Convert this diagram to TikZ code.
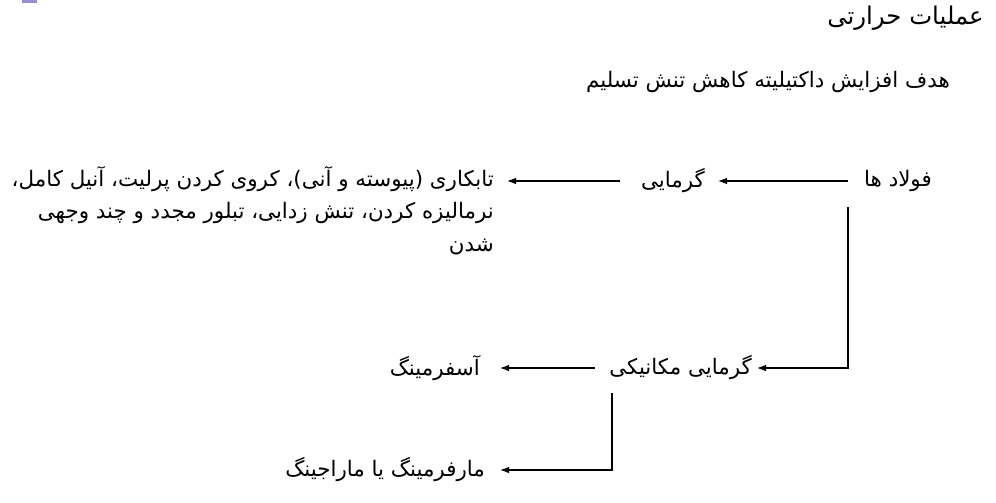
\documentclass[tikz,border=0pt]{standalone}
\usepackage{fontspec}
\newfontfamily\farsi[Script=Arabic]{DejaVu Sans}
\TeXXeTstate=1
\usetikzlibrary{arrows.meta,positioning}

\definecolor{slidemark}{RGB}{150,140,210}

\begin{document}
\begin{tikzpicture}[x=1pt,y=-1pt]
    \tikzset{
      titlenode/.style={inner sep=0pt,font=\farsi\fontsize{24.4}{30}\selectfont},
      textnode/.style={inner sep=0pt,font=\farsi\fontsize{21.4}{32.5}\selectfont},
      arrow/.style={-{Latex[length=9pt,width=6.5pt]},line width=1.1pt}
    }
    \useasboundingbox (0,0) rectangle (996,503);
    \fill[slidemark] (22,0) rectangle (37,3);

    \node[titlenode,anchor=east](title) at (984,18){\beginR عملیات حرارتی\endR};
    \node[textnode,anchor=east](goal) at (950,82){\beginR هدف افزایش داکتیلیته کاهش تنش تسلیم\endR};
    \node[textnode,anchor=east](steel) at (932,181){\beginR فولاد ها\endR};
    \node[textnode,anchor=east](thermal) at (705,181){\beginR گرمایی\endR};
    \node[textnode,anchor=north east,align=right](treatments) at (494,166){\beginR تابکاری (پیوسته و آنی)، کروی کردن پرلیت، آنیل کامل،\endR\\
      \beginR نرمالیزه کردن، تنش زدایی، تبلور مجدد و چند وجهی\endR\\
      \beginR شدن\endR};
    \node[textnode,anchor=east](thermomech) at (752,368){\beginR گرمایی مکانیکی\endR};
    \node[textnode,anchor=east](ausforming) at (480,368){\beginR آسفرمینگ\endR};
    \node[textnode,anchor=east](marforming) at (485,470){\beginR مارفرمینگ یا ماراجینگ\endR};

    % free ends of the connectors
    \coordinate (steelleft) at (848,181);
    \coordinate (steeldown) at (848,207);
    \coordinate (thermalleft) at (620,181);
    \coordinate (treatmentstip) at (507,181);
    \coordinate (thermomechleft) at (595,368);
    \coordinate (thermomechdown) at (612,393);

    \draw[arrow](steelleft) -- ([xshift=13pt]thermal.east);
    \draw[arrow](thermalleft) -- (treatmentstip);
    \draw[arrow](steeldown) |- ([xshift=5pt]thermomech.east);
    \draw[arrow](thermomechleft) -- ([xshift=20pt]ausforming.east);
    \draw[arrow](thermomechdown) |- ([xshift=15pt]marforming.east);
\end{tikzpicture}
\end{document}
